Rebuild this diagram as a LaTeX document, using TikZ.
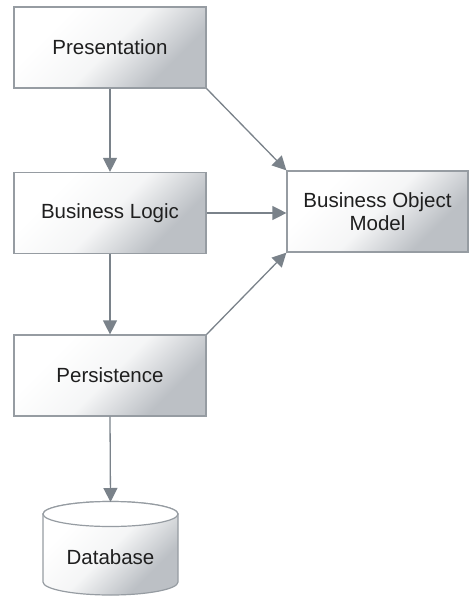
\documentclass[tikz,border=0pt]{standalone}
\usepackage{fontspec}
\setmainfont{Liberation Sans}
\usetikzlibrary{arrows.meta,shapes.geometric}
\definecolor{edgegray}{RGB}{150,156,162}
\definecolor{arrgray}{RGB}{122,130,138}
\definecolor{shadegray}{RGB}{188,192,197}
\pgfdeclarehorizontalshading{boxshade}{100bp}{color(0bp)=(white); color(30bp)=(white); color(50bp)=(white!85!shadegray); color(70bp)=(shadegray); color(100bp)=(shadegray)}
\begin{document}
\begin{tikzpicture}[x=1pt,y=-1pt,
  box/.style={draw=edgegray, line width=1.2pt, minimum width=192pt, minimum height=81pt,
    shading=boxshade, shading angle=-45, inner sep=0pt,
    font=\fontsize{20.5}{24}\selectfont, text=black!88, align=center},
  conn/.style={draw=arrgray, line width=1.3pt, -{Triangle[length=14pt,width=14pt]}}]
\useasboundingbox (0,0) rectangle (471,604);
\node[box] (pres) at (110,47.5) {Presentation};
\node[box] (logic) at (110,213) {Business Logic};
\node[box] (pers) at (110,375.5) {Persistence};
\node[box, minimum width=181pt] (bom) at (377.5,211.5) {Business Object\\[-1pt]Model};
% database cylinder
\coordinate (dbtop) at (110.5,502);
\shade[shading=boxshade, shading angle=-45, draw=edgegray, line width=1.2pt]
  (43,514) -- (43,582) arc[start angle=180, end angle=360, x radius=67.5pt, y radius=13pt]
  -- (178,514) arc[start angle=0, end angle=180, x radius=67.5pt, y radius=12.5pt] -- cycle;
\draw[edgegray, line width=1.2pt, fill=white] (110.5,514) ellipse[x radius=67.5pt, y radius=12.5pt];
\node[font=\fontsize{20.5}{24}\selectfont, text=black!88] (db) at (110.5,557) {Database};
\draw[conn] (pres.south) -- (logic.north);
\draw[conn] (logic.south) -- (pers.north);
\draw[conn] (pers.south) -- (dbtop);
\draw[conn] (pres.south east) -- (bom.north west);
\draw[conn] (logic.east) -- (logic.east -| bom.west);
\draw[conn] (pers.north east) -- (bom.south west);
\end{tikzpicture}
\end{document}
